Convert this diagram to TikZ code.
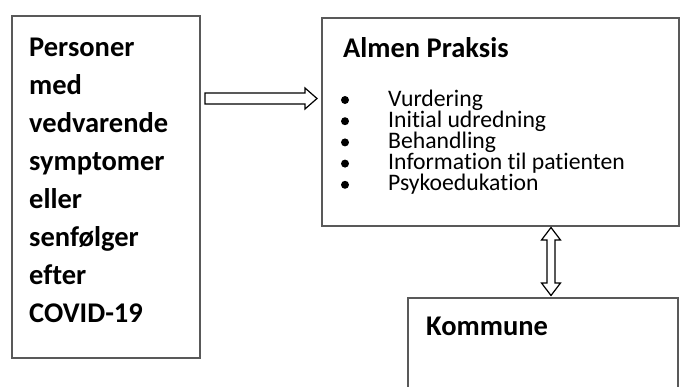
\documentclass[tikz,border=0pt]{standalone}
\usepackage{fontspec}
\setmainfont[Ligatures=NoCommon]{Carlito}
\usetikzlibrary{calc}

\tikzset{
  box/.style={draw=black!65, line width=2pt, rectangle, inner sep=0pt, outer sep=0pt},
  txt/.style={anchor=base west, inner sep=0pt, font=\fontsize{28.5pt}{38pt}\selectfont\bfseries},
  item/.style={anchor=base west, inner sep=0pt, font=\fontsize{23.7pt}{21pt}\selectfont},
  dot/.style={circle, fill=black, inner sep=0pt, minimum size=8pt},
  hollow/.style={draw=black, line width=1.2pt, fill=white, line join=miter},
}

\begin{document}
\begin{tikzpicture}[x=1pt,y=1pt]
\useasboundingbox (0,0) rectangle (680,-386);
\clip (0,0) rectangle (680,-386);

\node[box, minimum width=188pt, minimum height=342pt] (pers) at (106,-187) {};
\node[box, minimum width=357pt, minimum height=208pt] (almen) at (500.5,-122) {};
\node[box, minimum width=270pt, minimum height=150pt] (komm) at (543,-373) {};

\foreach \w [count=\i from 0] in {Personer,med,vedvarende,symptomer,eller,senfølger,efter,COVID-19}
  \node[txt] (p\i) at (29,{-56-38*\i}) {\w};

\node[txt] (almtitle) at (343,-57) {Almen Praksis};
\foreach \w [count=\i from 0] in {Vurdering,Initial udredning,Behandling,Information til patienten,Psykoedukation} {
  \node[dot] (b\i) at (345,{-100-21.2*\i}) {};
  \node[item] (it\i) at (388,{-106-21.2*\i}) {\w};
}

\node[txt] (kommtitle) at (426,-335) {Kommune};

\coordinate (r0) at ($(pers.north east)+(5,-82.5)$);
\coordinate (r1) at ($(almen.west |- r0)+(-5,0)$);
\draw[hollow] ($(r0)+(0,5.5)$) -- ($(r1)+(-12,5.5)$) -- ($(r1)+(-12,10.5)$) -- (r1) -- ($(r1)+(-12,-10.5)$) -- ($(r1)+(-12,-5.5)$) -- ($(r0)+(0,-5.5)$) -- cycle;

\coordinate (v0) at ($(almen.south west)+(229,-1.5)$);
\coordinate (v1) at ($(komm.north west)+(143,2.5)$);
\draw[hollow] (v0) -- ($(v0)+(9.5,-12.5)$) -- ($(v0)+(4,-12.5)$) -- ($(v1)+(4,12.5)$) -- ($(v1)+(9.5,12.5)$) -- (v1) -- ($(v1)+(-9.5,12.5)$) -- ($(v1)+(-4,12.5)$) -- ($(v0)+(-4,-12.5)$) -- ($(v0)+(-9.5,-12.5)$) -- cycle;

\end{tikzpicture}
\end{document}
